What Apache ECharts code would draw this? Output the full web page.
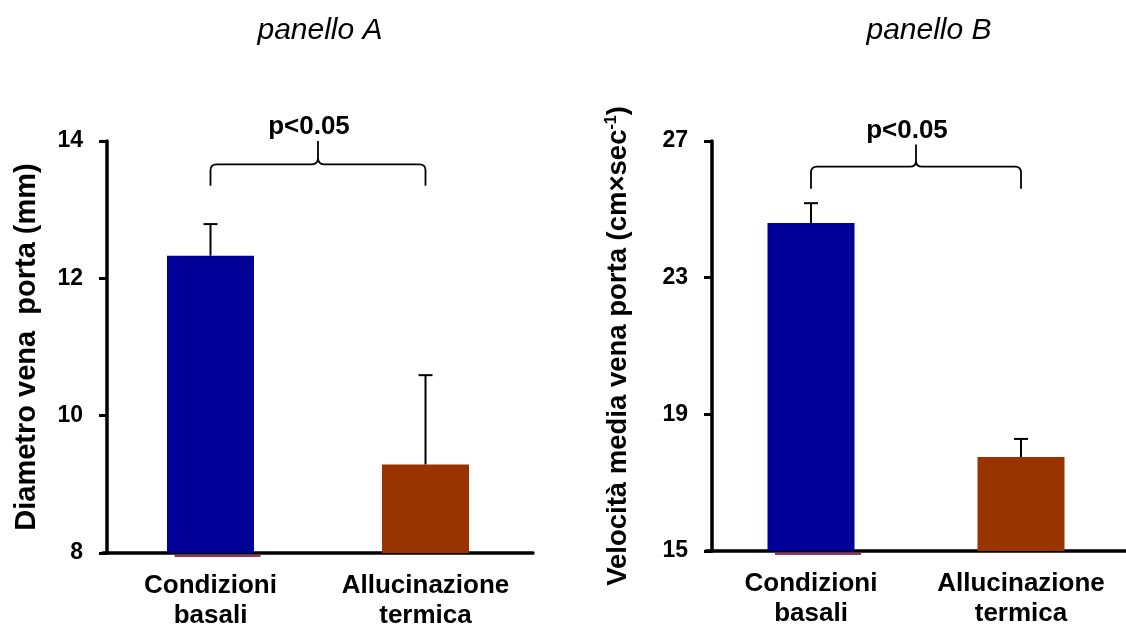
<!DOCTYPE html>
<html>
<head>
<meta charset="utf-8">
<script src="https://cdn.jsdelivr.net/npm/echarts@6/dist/echarts.min.js"></script>
<style>
html,body{margin:0;padding:0;background:#fff;}
#chart{width:1126px;height:631px;}
</style>
</head>
<body>
<div id="chart"></div>
<script>
// ---- data ----
const categories = ['Condizioni\nbasali', 'Allucinazione\ntermica'];
const diametroMean = [12.33, 9.29];
const diametroUpper = [12.79, 10.59];
const velocitaMean = [24.6, 17.75];
const velocitaUpper = [25.18, 18.28];
const ticksA = [8, 10, 12, 14];
const ticksB = [15, 19, 23, 27];
const bracketA = [13.35, 13.66, 14.0]; // leg end, bar level, cusp top
const bracketB = [25.6, 26.25, 26.9];
const pLabel = 'p<0.05';
const titles = ['panello A', 'panello B'];
const yNameA = 'Diametro vena  porta (mm)';
const yNameB = ['Velocità media vena porta (cm×sec', '-1', ')'];
const barColors = ['#000099', '#993300'];

const FONT = '"Liberation Sans", Arial, sans-serif';
const chart = echarts.init(document.getElementById('chart'));

function errorItem(params, api) {
  const i = api.value(0);
  const p0 = api.coord([i, api.value(1)]);
  const p1 = api.coord([i, api.value(2)]);
  const cap = 7;
  return {
    type: 'group',
    children: [
      {type: 'line', shape: {x1: p0[0], y1: p0[1], x2: p1[0], y2: p1[1]}, style: {stroke: '#000', lineWidth: 2}},
      {type: 'line', shape: {x1: p1[0] - cap, y1: p1[1], x2: p1[0] + cap, y2: p1[1]}, style: {stroke: '#000', lineWidth: 2}}
    ]
  };
}

// faint magenta edge visible just under the first bar in the original
function edgeItem(params, api) {
  const p = api.coord([api.value(0), api.value(1)]);
  const half = 43;
  return {type: 'line', shape: {x1: p[0] - half + 7, y1: p[1] + 3, x2: p[0] + half + 7, y2: p[1] + 3},
          style: {stroke: '#993366', lineWidth: 2}};
}

function bracketItem(params, api) {
  const a = api.coord([0, api.value(0)]);
  const b = api.coord([1, api.value(0)]);
  const yEnd = a[1];
  const yH = api.coord([0, api.value(1)])[1];
  const yTop = api.coord([0, api.value(2)])[1];
  const x1 = a[0], x2 = b[0], xm = (x1 + x2) / 2;
  const r = 6;
  const path =
    'M' + x1 + ',' + yEnd + ' L' + x1 + ',' + (yH + r) +
    ' Q' + x1 + ',' + yH + ' ' + (x1 + r) + ',' + yH +
    ' L' + (xm - r) + ',' + yH +
    ' Q' + xm + ',' + yH + ' ' + xm + ',' + (yH - r) +
    ' L' + xm + ',' + yTop +
    ' M' + xm + ',' + (yH - r) +
    ' Q' + xm + ',' + yH + ' ' + (xm + r) + ',' + yH +
    ' L' + (x2 - r) + ',' + yH +
    ' Q' + x2 + ',' + yH + ' ' + x2 + ',' + (yH + r) +
    ' L' + x2 + ',' + yEnd;
  return {
    type: 'group',
    children: [
      {type: 'path', shape: {pathData: path}, style: {stroke: '#000', lineWidth: 1.8, fill: null}},
      {type: 'text', x: xm - 9, y: yTop - 1,
       style: {text: pLabel, font: 'bold 26px ' + FONT, fill: '#000', align: 'center', verticalAlign: 'bottom'}}
    ]
  };
}

function xAxisCfg(gi) {
  return {
    type: 'category', gridIndex: gi, data: categories,
    axisLine: {lineStyle: {color: '#000', width: 3.5}},
    axisTick: {show: false},
    axisLabel: {color: '#000', fontFamily: FONT, fontWeight: 'bold', fontSize: 26, lineHeight: 30, margin: 18, interval: 0}
  };
}

function yAxisCfg(gi, ticks, off, gap, name, nameSize, rich) {
  return {
    type: 'value', gridIndex: gi, min: ticks[0], max: ticks[ticks.length - 1],
    offset: off,
    splitLine: {show: false},
    axisLine: {show: true, lineStyle: {color: '#000', width: 3.5}},
    axisTick: {show: true, length: 8, lineStyle: {color: '#000', width: 3}, customValues: ticks},
    axisLabel: {color: '#000', fontFamily: FONT, fontWeight: 'bold', fontSize: 23, margin: 24, customValues: ticks},
    name: name, nameLocation: 'middle', nameGap: gap, nameRotate: 90,
    nameTextStyle: Object.assign({color: '#000', fontFamily: FONT, fontWeight: 'bold', fontSize: nameSize}, rich ? {rich: rich} : {})
  };
}

const richB = {
  a: {fontFamily: FONT, fontWeight: 'bold', fontSize: 27.5, color: '#000', verticalAlign: 'bottom'},
  s: {fontFamily: FONT, fontWeight: 'bold', fontSize: 16, color: '#000', verticalAlign: 'top'}
};

chart.setOption({
  animation: false,
  backgroundColor: '#fff',
  title: [
    {text: titles[0], left: 315, top: 11, textAlign: 'center',
     textStyle: {fontFamily: FONT, fontStyle: 'italic', fontWeight: 'normal', fontSize: 30, color: '#000'}},
    {text: titles[1], left: 924, top: 11, textAlign: 'center',
     textStyle: {fontFamily: FONT, fontStyle: 'italic', fontWeight: 'normal', fontSize: 30, color: '#000'}}
  ],
  grid: [
    {left: 103, right: 593, top: 141, bottom: 77},
    {left: 706, right: 0, top: 141, bottom: 80}
  ],
  xAxis: [xAxisCfg(0), xAxisCfg(1)],
  yAxis: [
    yAxisCfg(0, ticksA, -4, 66, yNameA, 29, null),
    yAxisCfg(1, ticksB, -6, 80, '{a|' + yNameB[0] + '}{s|' + yNameB[1] + '}{a|' + yNameB[2] + '}', 27.5, richB)
  ],
  series: [
    {type: 'bar', xAxisIndex: 0, yAxisIndex: 0, barWidth: 87,
     data: diametroMean.map((v, i) => ({value: v, itemStyle: {color: barColors[i]}}))},
    {type: 'custom', xAxisIndex: 0, yAxisIndex: 0, renderItem: errorItem, clip: false,
     data: diametroMean.map((v, i) => [i, v, diametroUpper[i]]), z: 5},
    {type: 'custom', xAxisIndex: 0, yAxisIndex: 0, renderItem: edgeItem, clip: false,
     data: [[0, ticksA[0]]], z: 1},
    {type: 'custom', xAxisIndex: 0, yAxisIndex: 0, renderItem: bracketItem, clip: false,
     data: [bracketA], z: 5},
    {type: 'bar', xAxisIndex: 1, yAxisIndex: 1, barWidth: 87,
     data: velocitaMean.map((v, i) => ({value: v, itemStyle: {color: barColors[i]}}))},
    {type: 'custom', xAxisIndex: 1, yAxisIndex: 1, renderItem: errorItem, clip: false,
     data: velocitaMean.map((v, i) => [i, v, velocitaUpper[i]]), z: 5},
    {type: 'custom', xAxisIndex: 1, yAxisIndex: 1, renderItem: edgeItem, clip: false,
     data: [[0, ticksB[0]]], z: 1},
    {type: 'custom', xAxisIndex: 1, yAxisIndex: 1, renderItem: bracketItem, clip: false,
     data: [bracketB], z: 5}
  ]
});
</script>
</body>
</html>
